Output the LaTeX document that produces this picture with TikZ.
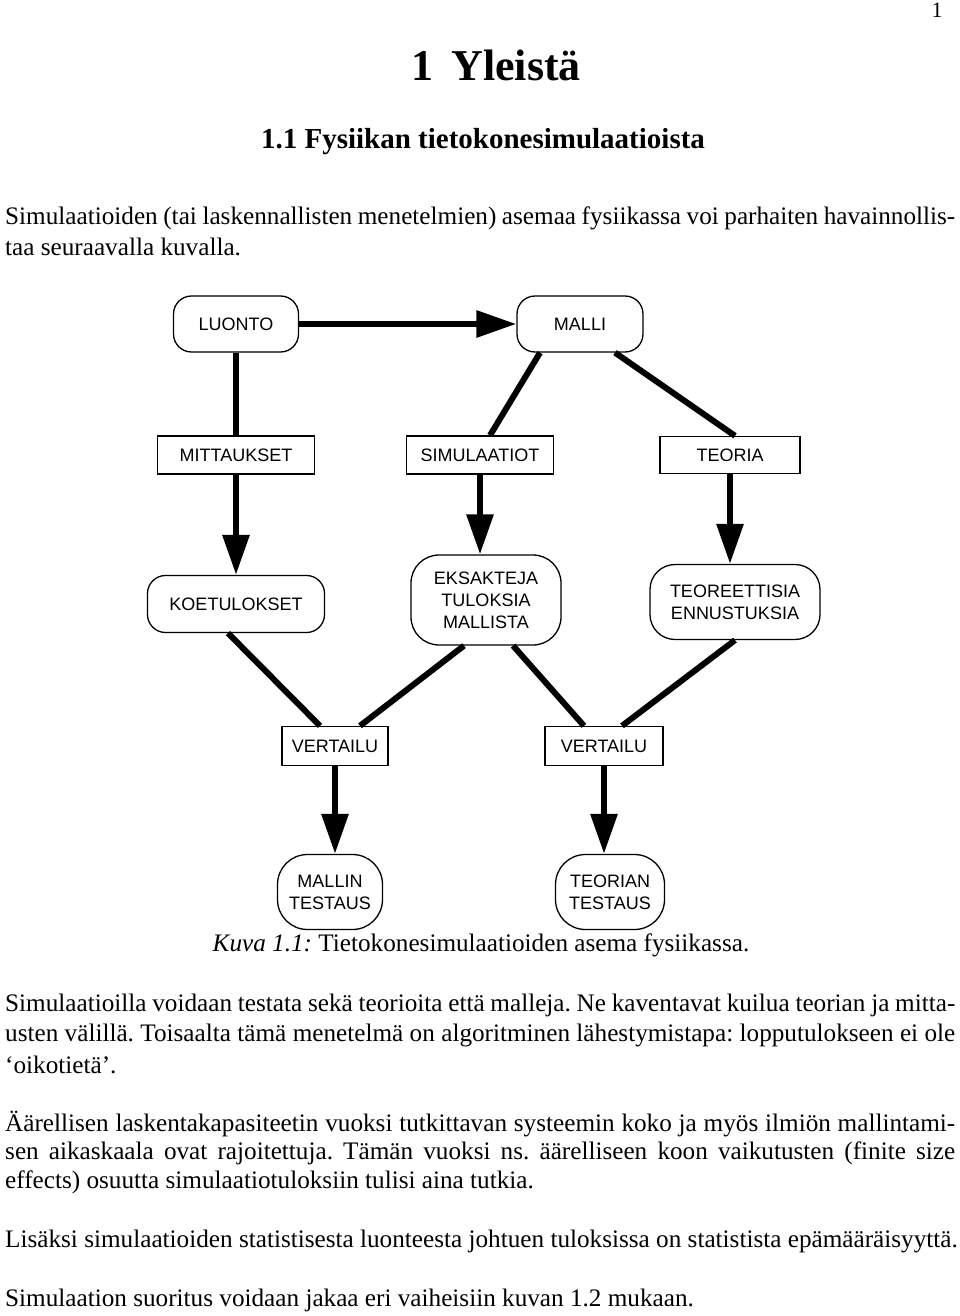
\documentclass[tikz,border=0pt]{standalone}
\usepackage{fontspec}
\setmainfont{Liberation Serif}
\setsansfont{Liberation Sans}
\usetikzlibrary{arrows.meta}
\frenchspacing

\newcommand{\bodyline}[3]{\node[anchor=west, inner sep=0, font=\body] at (5, #1) {\makebox[#2pt][s]{#3}};}
\newcommand{\lastline}[2]{\node[anchor=west, inner sep=0, font=\body] at (5, #1) {#2};}
\newcommand{\body}{\fontsize{25.2}{30}\selectfont}

\begin{document}
\begin{tikzpicture}[x=1pt, y=-1pt, >={Triangle[length=40pt, width=26pt]},
  rbox/.style={draw, line width=1.3pt, rounded corners=18pt, font=\sffamily\fontsize{18}{22}\selectfont, align=center, inner sep=0},
  sbox/.style={draw, line width=1.3pt, font=\sffamily\fontsize{18}{22}\selectfont, inner sep=0},
  link/.style={line width=6pt},
  flow/.style={line width=6pt, ->}]

\useasboundingbox (0,0) rectangle (960,1316);

% page head
\node[font=\fontsize{22}{26}\selectfont] at (937, 10) {1};
\node[font=\bfseries\fontsize{44}{50}\selectfont] at (496, 65) {1\hspace{18pt}Yleistä};
\node[font=\bfseries\fontsize{29}{34}\selectfont] at (483, 142) {1.1 Fysiikan tietokonesimulaatioista};
\bodyline{218}{950}{Simulaatioiden (tai laskennallisten menetelmien) asemaa fysiikassa voi parhaiten havainnollis-}
\lastline{247}{taa seuraavalla kuvalla.}

% diagram
\node[rbox, minimum width=125pt, minimum height=56pt] (luonto) at (236, 324) {LUONTO};
\node[rbox, minimum width=126pt, minimum height=56pt] (malli) at (580, 324) {MALLI};
\node[sbox, minimum width=157pt, minimum height=38pt] (mitt) at (236, 455) {MITTAUKSET};
\node[sbox, minimum width=147pt, minimum height=38pt] (simu) at (480, 455) {SIMULAATIOT};
\node[sbox, minimum width=140pt, minimum height=37pt] (teoria) at (730, 455) {TEORIA};
\node[rbox, minimum width=177pt, minimum height=57pt] (koe) at (236, 604) {KOETULOKSET};
\node[rbox, minimum width=150pt, minimum height=90pt, rounded corners=28pt] (eks) at (486, 600) {EKSAKTEJA\\TULOKSIA\\MALLISTA};
\node[rbox, minimum width=170pt, minimum height=75pt, rounded corners=25pt] (ennu) at (735, 602) {TEOREETTISIA\\ENNUSTUKSIA};
\node[sbox, minimum width=106pt, minimum height=39pt] (vert1) at (335, 746) {VERTAILU};
\node[sbox, minimum width=118pt, minimum height=39pt] (vert2) at (604, 746) {VERTAILU};
\node[rbox, minimum width=105pt, minimum height=75pt, rounded corners=30pt] (mtest) at (330, 892) {MALLIN\\TESTAUS};
\node[rbox, minimum width=109pt, minimum height=75pt, rounded corners=30pt] (ttest) at (610, 892) {TEORIAN\\TESTAUS};

\draw[flow] (luonto.east) -- (malli.west); %luonto-malli
\draw[link] (luonto.south) -- (mitt.north);
\draw[link] ([xshift=-40pt]malli.south) -- ([xshift=10pt]simu.north);
\draw[link] ([xshift=35pt]malli.south) -- ([xshift=5pt]teoria.north);
\draw[flow] (mitt.south) -- (koe.north);
\draw[flow] (simu.south) -- (eks.north -| simu.south);
\draw[flow] (teoria.south) -- (ennu.north -| teoria.south);
\draw[link] ([xshift=-8pt]koe.south) -- ([xshift=-15pt]vert1.north);
\draw[link] ([xshift=-22pt]eks.south) -- ([xshift=25pt]vert1.north);
\draw[link] ([xshift=27pt]eks.south) -- ([xshift=-20pt]vert2.north);
\draw[link] (ennu.south) -- ([xshift=18pt]vert2.north);
\draw[flow] (vert1.south) -- (mtest.north -| vert1.south);
\draw[flow] (vert2.south) -- (ttest.north -| vert2.south);

% caption and text
\node[font=\body] (cap) at (481, 945) {\textit{Kuva 1.1:} Tietokonesimulaatioiden asema fysiikassa.};
\bodyline{1005}{950}{Simulaatioilla voidaan testata sekä teorioita että malleja. Ne kaventavat kuilua teorian ja mitta-}
\bodyline{1035}{950}{usten välillä. Toisaalta tämä menetelmä on algoritminen lähestymistapa: lopputulokseen ei ole}
\lastline{1065}{`oikotietä'.}
\bodyline{1124}{950}{Äärellisen laskentakapasiteetin vuoksi tutkittavan systeemin koko ja myös ilmiön mallintami-}
\bodyline{1153}{950}{sen aikaskaala ovat rajoitettuja. Tämän vuoksi ns. äärelliseen koon vaikutusten (finite size}
\lastline{1182}{effects) osuutta simulaatiotuloksiin tulisi aina tutkia.}
\lastline{1241}{Lisäksi simulaatioiden statistisesta luonteesta johtuen tuloksissa on statistista epämääräisyyttä.}
\lastline{1300}{Simulaation suoritus voidaan jakaa eri vaiheisiin kuvan 1.2 mukaan.}

\end{tikzpicture}
\end{document}
